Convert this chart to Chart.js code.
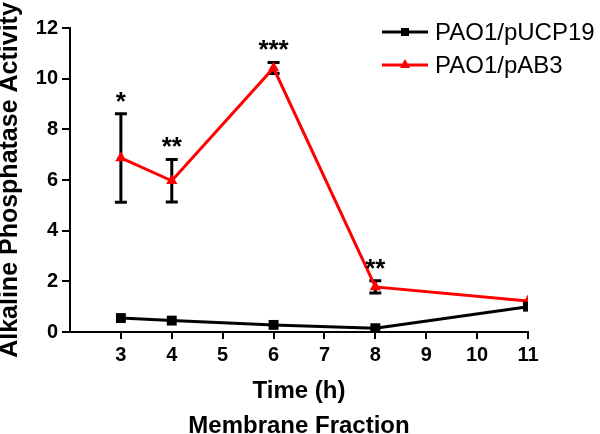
<!DOCTYPE html>
<html>
<head>
<meta charset="utf-8">
<script src="https://cdn.jsdelivr.net/npm/chart.js@4/dist/chart.umd.min.js"></script>
<style>
  html, body { margin: 0; padding: 0; background: #fff; }
  #wrap { width: 600px; height: 434px; }
</style>
</head>
<body>
<div id="wrap"><canvas id="apChart" width="600" height="434"></canvas></div>
<script>
/*---- data ----*/
var times = [3, 4, 6, 8, 11];
var pucp19 = [0.55, 0.45, 0.28, 0.15, 1.0];
var pab3 = [6.87, 5.97, 10.42, 1.78, 1.22];
var pab3Err = [1.75, 0.84, 0.22, 0.24, 0];
var stars = ['*', '**', '***', '**', ''];
var seriesNames = ['PAO1/pUCP19', 'PAO1/pAB3'];

var FONT = '"Liberation Sans", Arial, sans-serif';

function toXY(xs, ys) {
  return xs.map(function (x, i) { return {x: x, y: ys[i]}; });
}

/*---- error bars + significance stars ----*/
var errorBars = {
  id: 'errorBars',
  beforeDatasetsDraw: function (chart) {
    var ctx = chart.ctx;
    var xs = chart.scales.x, ys = chart.scales.y;
    ctx.save();
    ctx.strokeStyle = '#000';
    ctx.lineWidth = 3;
    times.forEach(function (t, i) {
      if (!pab3Err[i]) return;
      var px = xs.getPixelForValue(t);
      var top = ys.getPixelForValue(pab3[i] + pab3Err[i]);
      var bot = ys.getPixelForValue(pab3[i] - pab3Err[i]);
      ctx.beginPath();
      ctx.moveTo(px, top); ctx.lineTo(px, bot);
      ctx.moveTo(px - 6, top); ctx.lineTo(px + 6, top);
      ctx.moveTo(px - 6, bot); ctx.lineTo(px + 6, bot);
      ctx.stroke();
    });
    ctx.restore();
  },
  afterDatasetsDraw: function (chart) {
    var ctx = chart.ctx;
    var xs = chart.scales.x, ys = chart.scales.y;
    ctx.save();
    ctx.fillStyle = '#000';
    ctx.font = 'bold 26px ' + FONT;
    ctx.textAlign = 'center';
    ctx.textBaseline = 'alphabetic';
    times.forEach(function (t, i) {
      if (!stars[i]) return;
      var px = xs.getPixelForValue(t);
      var top = ys.getPixelForValue(pab3[i] + pab3Err[i]);
      ctx.fillText(stars[i], px, top - 4);
    });
    ctx.restore();
  }
};

/*---- legend top right, line through marker ----*/
var lineLegend = {
  id: 'lineLegend',
  afterDraw: function (chart) {
    var ctx = chart.ctx;
    ctx.save();
    chart.data.datasets.forEach(function (ds, i) {
      var y = 32 + i * 33;
      ctx.strokeStyle = ds.borderColor;
      ctx.lineWidth = 3;
      ctx.beginPath();
      ctx.moveTo(382, y); ctx.lineTo(428, y);
      ctx.stroke();
      ctx.fillStyle = ds.borderColor;
      if (ds.pointStyle === 'rect') {
        ctx.fillRect(401, y - 4, 8, 8);
      } else {
        ctx.beginPath();
        ctx.moveTo(405, y - 6); ctx.lineTo(410, y + 3); ctx.lineTo(400, y + 3);
        ctx.closePath();
        ctx.fill();
      }
      ctx.fillStyle = '#000';
      ctx.font = '24px ' + FONT;
      ctx.textAlign = 'left';
      ctx.textBaseline = 'middle';
      ctx.fillText(ds.label, 435, y + 1);
    });
    ctx.restore();
  }
};

var ctx = document.getElementById('apChart').getContext('2d');
var apChart = new Chart(ctx, {
  type: 'line',
  data: {
    datasets: [{
      label: seriesNames[0],
      data: toXY(times, pucp19),
      borderColor: '#000',
      backgroundColor: '#000',
      borderWidth: 3,
      pointStyle: 'rect',
      pointRadius: 7,
      pointBorderWidth: 0
    }, {
      label: seriesNames[1],
      data: toXY(times, pab3),
      borderColor: '#f00',
      backgroundColor: '#f00',
      borderWidth: 3,
      pointStyle: 'triangle',
      pointRadius: 6.5,
      pointBorderWidth: 0
    }]
  },
  options: {
    responsive: false,
    animation: false,
    events: [],
    layout: { padding: { top: 28, right: 72, left: 0, bottom: 0 } },
    plugins: {
      legend: { display: false },
      tooltip: { enabled: false }
    },
    scales: {
      x: {
        type: 'linear',
        min: 2,
        max: 11,
        afterFit: function (s) { s.height = 102; },
        border: { color: '#000', width: 2 },
        grid: {
          drawOnChartArea: false,
          tickLength: 7,
          lineWidth: 2,
          color: function (c) { return c.tick && c.tick.value === 2 ? 'rgba(0,0,0,0)' : '#000'; }
        },
        ticks: {
          stepSize: 1,
          padding: 4,
          color: '#000',
          font: { family: FONT, size: 20, weight: 'bold' },
          callback: function (v) { return v === 2 ? '' : v; }
        },
        title: {
          display: true,
          text: ['Time (h)', 'Membrane Fraction'],
          color: '#000',
          font: { family: FONT, size: 24, weight: 'bold', lineHeight: 1.46 },
          padding: { top: 0, bottom: -10 }
        }
      },
      y: {
        min: 0,
        max: 12,
        afterFit: function (s) { s.width = 70; },
        border: { color: '#000', width: 2 },
        grid: {
          drawOnChartArea: false,
          tickLength: 8,
          lineWidth: 2,
          color: '#000'
        },
        ticks: {
          stepSize: 1,
          padding: 4,
          color: '#000',
          font: { family: FONT, size: 20, weight: 'bold' },
          callback: function (v) { return v % 2 === 0 ? v : ''; }
        },
        title: {
          display: true,
          text: 'Alkaline Phosphatase Activity',
          color: '#000',
          font: { family: FONT, size: 25, weight: 'bold', lineHeight: 1.2 },
          padding: { top: -5, bottom: 0 }
        }
      }
    }
  },
  plugins: [errorBars, lineLegend]
});
</script>
</body>
</html>
